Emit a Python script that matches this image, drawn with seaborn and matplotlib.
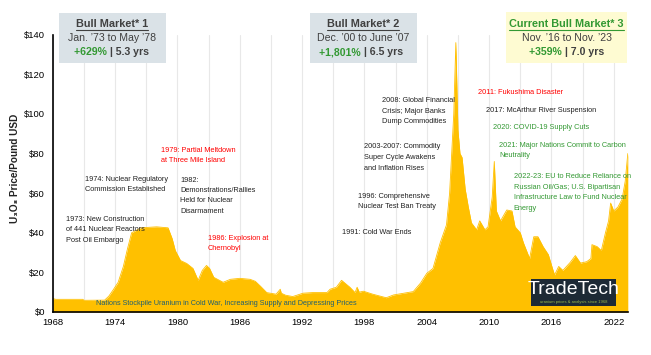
import numpy as np
import pandas as pd
import seaborn as sns
import matplotlib.pyplot as plt
from matplotlib.patches import Rectangle
from matplotlib.lines import Line2D

W, H = 651, 355

# U3O8 spot price (year, USD/lb)
years = [1968.0, 1968.3, 1970.9, 1971.0, 1973.0, 1973.4, 1973.8, 1974.3, 1974.8, 1975.2,
         1975.6, 1976.5, 1978.0, 1979.1, 1979.5, 1979.8, 1980.3, 1980.9, 1981.5, 1982.0,
         1982.4, 1982.8, 1983.1, 1983.5, 1984.4, 1985.1, 1986.0, 1987.0, 1987.5, 1988.0,
         1988.6, 1989.5, 1989.9, 1990.0, 1990.4, 1991.1, 1992.1, 1993.0, 1994.4, 1994.7,
         1995.3, 1995.8, 1996.6, 1997.1, 1997.3, 1997.5, 1997.9, 1998.8, 2000.1, 2000.8,
         2002.7, 2003.4, 2004.0, 2004.6, 2005.3, 2005.9, 2006.2, 2006.6, 2006.8, 2007.0,
         2007.2, 2007.4, 2007.7, 2008.0, 2008.3, 2008.8, 2009.1, 2009.6, 2009.9, 2010.3,
         2010.5, 2010.7, 2011.1, 2011.7, 2012.2, 2012.5, 2013.0, 2013.3, 2013.6, 2013.9,
         2014.3, 2014.7, 2015.2, 2015.7, 2016.1, 2016.3, 2016.7, 2017.1, 2017.8, 2018.3,
         2018.8, 2019.4, 2019.8, 2019.9, 2020.4, 2020.8, 2021.2, 2021.5, 2021.7, 2022.0,
         2022.4, 2022.8, 2023.1, 2023.35]
prices = [6.8, 6.4, 6.4, 5.9, 6.0, 8.0, 11.0, 15.0, 23.0, 32.0,
          40.0, 42.5, 43.0, 42.5, 37.0, 31.0, 26.0, 24.5, 22.0, 16.0,
          21.0, 23.5, 22.0, 17.5, 15.0, 16.5, 17.0, 16.5, 15.5, 13.0,
          9.8, 9.0, 11.5, 9.5, 8.5, 7.8, 9.5, 9.8, 9.8, 11.5,
          12.5, 16.0, 12.5, 9.8, 12.5, 10.0, 10.5, 9.0, 7.2, 8.6,
          10.3, 14.6, 19.5, 22.0, 35.0, 44.0, 60.0, 100.0, 136.0, 92.0,
          80.0, 78.0, 62.0, 53.0, 45.0, 41.5, 46.0, 41.5, 43.0, 58.0,
          76.0, 51.0, 46.0, 51.5, 51.0, 43.0, 40.0, 35.0, 31.0, 27.0,
          38.0, 38.0, 33.0, 29.0, 22.0, 18.7, 23.0, 21.0, 25.0, 28.5,
          24.7, 25.4, 27.0, 34.0, 33.0, 31.0, 40.0, 46.0, 55.0, 51.0,
          53.0, 57.0, 66.0, 80.0]

x_ticks = list(range(1968, 2023, 6))
y_ticks = list(range(0, 141, 20))
y_ticklabels = [f"${v}" for v in y_ticks]

box_titles = ["Bull Market* 1", "Bull Market* 2", "Current Bull Market* 3"]
box_ranges = ["Jan. \u201973 to May \u201978", "Dec. \u201900 to June \u201907", "Nov. \u201916 to Nov. \u201923"]
box_gains = ["+629%", "+1,801%", "+359%"]
box_years = ["| 5.3 yrs", "| 6.5 yrs", "| 7.0 yrs"]

GOLD = "#FFC000"
GREEN = "#339933"
RED = "#FF0000"
DARK = "#404040"

sns.set_theme(style="white")
plt.rcParams['font.family'] = ['Liberation Sans', 'DejaVu Sans']

fig = plt.figure(figsize=(W / 100, H / 100), dpi=100)
ax = fig.add_axes([52.7 / W, 1 - 312 / H, (628 - 52.7) / W, (312 - 34.7) / H])

df = pd.DataFrame({'year': years, 'price': prices})
ax.fill_between(df['year'], df['price'], color=GOLD, lw=0, zorder=2)
sns.lineplot(data=df, x='year', y='price', color=GOLD, lw=0.6, ax=ax, zorder=2)

ax.set_xlim(1968, 2023.37)
ax.set_ylim(0, 140)
ax.set_xticks(x_ticks)
ax.set_xticks(list(range(1971, 2023, 6)), minor=True)
ax.set_yticks(y_ticks)
ax.set_yticklabels(y_ticklabels)
ax.set_xlabel('')
ax.set_ylabel('')
ax.set_axisbelow(True)
ax.grid(axis='x', which='both', color='#e8e8e8', lw=0.8, zorder=0)
for s in ['top', 'right']:
    ax.spines[s].set_visible(False)
for s in ['left', 'bottom']:
    ax.spines[s].set_color('black')
    ax.spines[s].set_linewidth(1.2)
ax.tick_params(axis='x', which='major', length=2.5, width=0.8, color='black',
               labelsize=6.8, pad=1.5, labelcolor='black')
ax.tick_params(axis='x', which='minor', length=0)
ax.tick_params(axis='y', length=0, labelsize=6.8, pad=5.5, labelcolor='black')

fig.text(15 / W, 1 - 168 / H, "U\u2083O\u2088 Price/Pound USD", rotation=90,
         ha='center', va='center', fontsize=7.2, fontweight='bold', color='#222222')


def fx(px):
    return px / W


def fy(py):
    return 1 - py / H


# boxes on top
boxes = [(59, 13.3, 165.7, 62.7, '#dae2e7', 109.5),
         (310, 13.3, 416.7, 62.7, '#dae2e7', 363.5),
         (505.7, 12, 627.3, 62.7, '#fefbd2', 565)]
title_objs = []
for i, (x0, y0, x1, y1, col, split) in enumerate(boxes):
    fig.patches.append(Rectangle((fx(x0), fy(y1)), fx(x1 - x0), (y1 - y0) / H,
                                 transform=fig.transFigure, facecolor=col,
                                 edgecolor='none', zorder=1))
    cx = (x0 + x1) / 2
    tcol = GREEN if i == 2 else DARK
    t = fig.text(fx(cx), fy(24), box_titles[i], ha='center', va='center',
                 fontsize=7.8, fontweight='bold', color=tcol)
    title_objs.append((t, tcol))
    fig.text(fx(cx), fy(37.7), box_ranges[i], ha='center', va='center',
             fontsize=7.6, color=DARK)
    fig.text(fx(split), fy(52.3), box_gains[i] + " ", ha='right', va='center',
             fontsize=7.6, fontweight='bold', color=GREEN)
    fig.text(fx(split), fy(52.3), box_years[i], ha='left', va='center',
             fontsize=7.6, fontweight='bold', color=DARK)

fig.canvas.draw()
for t, col in title_objs:
    bb = t.get_window_extent()
    yline = fy(29.8)
    fig.lines.append(Line2D([bb.x0 / W, bb.x1 / W], [yline, yline],
                            transform=fig.transFigure, color=col, lw=0.8))

# event notes
LS = 10.5


def note(px, py, lines, color='#222222', size=5.3):
    for k, line in enumerate(lines):
        fig.text(fx(px), fy(py + k * LS), line, ha='left', va='center',
                 fontsize=size, color=color)


note(161, 150.3, ["1979: Partial Meltdown", "at Three Mile Island"], RED)
note(85, 179.3, ["1974: Nuclear Regulatory", "Commission Established"])
note(180, 180, ["1982:", "Demonstrations/Rallies", "Held for Nuclear", "Disarmament"])
note(66, 219.3, ["1973: New Construction", "of 441 Nuclear Reactors", "Post Oil Embargo"])
note(207.7, 238.3, ["1986: Explosion at", "Chernobyl"], RED)
note(341.7, 232, ["1991: Cold War Ends"])
note(357.7, 196, ["1996: Comprehensive", "Nuclear Test Ban Treaty"])
note(364.3, 147, ["2003-2007: Commodity", "Super Cycle Awakens", "and Inflation Rises"])
note(381.7, 100.7, ["2008: Global Financial", "Crisis; Major Banks", "Dump Commodities"])
note(477.7, 92.7, ["2011: Fukushima Disaster"], RED)
note(486, 110.7, ["2017: McArthur River Suspension"])
note(493, 127.7, ["2020: COVID-19 Supply Cuts"], GREEN)
note(499.3, 145.3, ["2021: Major Nations Commit to Carbon", "Neutrality"], GREEN)
note(513.7, 176.7, ["2022-23: EU to Reduce Reliance on", "Russian Oil/Gas; U.S. Bipartisan",
                    "Infrastructure Law to Fund Nuclear", "Energy"], GREEN)
note(96, 303.3, ["Nations Stockpile Uranium in Cold War, Increasing Supply and Depressing Prices"],
     '#1f5f70', 5.25)

# logo
fig.patches.append(Rectangle((fx(531), fy(305.7)), fx(615.7 - 531), (305.7 - 279) / H,
                             transform=fig.transFigure, facecolor='#1d2a35',
                             edgecolor='none', zorder=3))
fig.text(fx(573.3), fy(289), "TradeTech", ha='center', va='center', fontsize=14,
         color='white', family=['Liberation Sans Narrow', 'Liberation Sans'], zorder=4)
fig.text(fx(573.3), fy(302.5), "uranium prices & analysis since 1968", ha='center',
         va='center', fontsize=3.0, color='#9ab84a', zorder=4)

fig.savefig("out.png", dpi=100)
